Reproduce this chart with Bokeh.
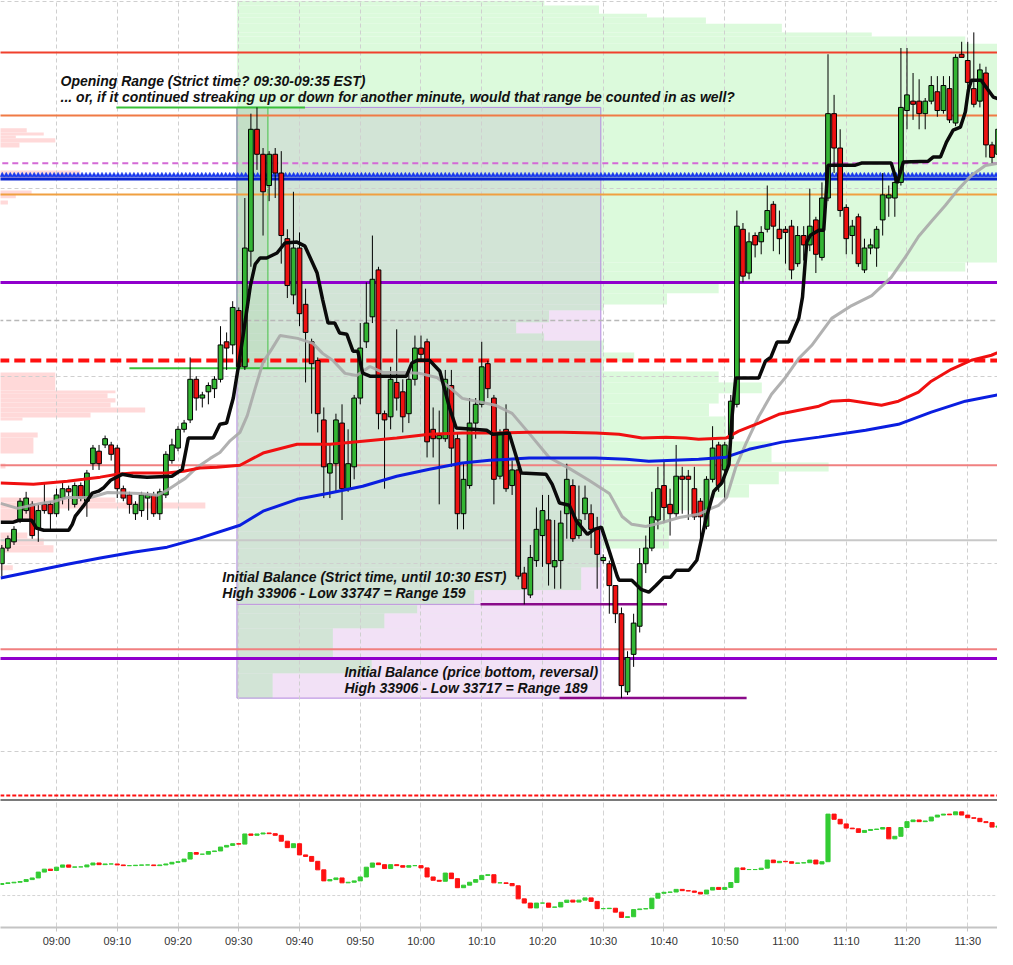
import numpy as np
from bokeh.plotting import figure
from bokeh.models import Range1d, FixedTicker, Label, ColumnDataSource
from bokeh.layouts import column
from bokeh.embed import file_html
from bokeh.resources import INLINE

# ---------------- data (minutes relative to 09:00) ----------------
minute = list(range(-9, 157))
o = [33760,33765,33767,33774,33777,33779,33771,33779,33779,
     33776,33781,33784,33779,33785,33780,33792,33796,33798,33798,
     33797,33784,33782,33776,33777,33781,33782,33776,33782,33793,
     33797,33803,33806,33819,33813,33815,33816,33819,33831,33830,
     33841,33823,33860,33899,33891,33881,33891,33885,33864,33846,
     33861,33843,33831,33825,33806,33789,33792,33805,33784,33791,
     33813,33831,33839,33854,33808,33807,33818,33815,33808,33819,
     33829,33831,33803,33800,33800,33817,33800,33776,33785,33805,
     33811,33824,33813,33788,33803,33785,33790,33757,33750,33761,
     33769,33774,33759,33761,33776,33785,33769,33776,33776,33771,
     33761,33760,33753,33744,33719,33731,33740,33760,33765,33774,
     33785,33779,33776,33788,33788,33784,33780,33772,33787,33798,
     33790,33800,33811,33867,33853,33865,33863,33867,33875,33867,
     33867,33868,33856,33865,33862,33870,33858,33877,33904,33893,
     33874,33865,33871,33854,33861,33861,33870,33877,33877,33882,
     33905,33908,33908,33904,33908,33911,33905,33912,33901,33923,
     33921,33912,33908,33917,33894,33891,33898]
h = [33766,33769,33772,33781,33783,33780,33779,33786,33780,
     33784,33786,33785,33786,33786,33790,33798,33798,33801,33799,
     33798,33785,33783,33780,33783,33783,33783,33784,33796,33800,
     33804,33806,33826,33820,33815,33818,33820,33836,33834,33844,
     33842,33877,33904,33906,33893,33892,33893,33892,33867,33879,
     33866,33848,33832,33826,33810,33798,33808,33811,33803,33814,
     33837,33850,33865,33855,33809,33823,33835,33819,33822,33833,
     33833,33832,33810,33809,33822,33822,33802,33792,33813,33813,
     33831,33825,33814,33803,33811,33793,33791,33759,33766,33778,
     33782,33782,33774,33777,33792,33787,33785,33785,33779,33775,
     33763,33761,33753,33746,33732,33744,33765,33769,33783,33791,
     33793,33784,33798,33791,33790,33791,33781,33788,33804,33799,
     33799,33814,33873,33869,33866,33866,33868,33881,33876,33873,
     33868,33870,33868,33868,33880,33871,33882,33923,33910,33899,
     33875,33870,33872,33864,33864,33868,33885,33881,33884,33925,
     33925,33917,33915,33909,33916,33916,33916,33916,33923,33927,
     33927,33930,33920,33919,33895,33902,33900]
l = [33756,33764,33766,33773,33776,33768,33767,33776,33771,
     33775,33779,33777,33778,33780,33775,33790,33790,33797,33793,
     33781,33780,33776,33774,33775,33774,33775,33774,33781,33792,
     33796,33802,33805,33809,33810,33811,33813,33818,33822,33827,
     33822,33822,33855,33886,33865,33876,33877,33856,33845,33843,
     33836,33818,33808,33802,33781,33781,33783,33774,33783,33787,
     33811,33829,33837,33803,33784,33803,33809,33802,33805,33817,
     33825,33794,33794,33779,33799,33791,33771,33771,33784,33800,
     33810,33813,33779,33787,33783,33782,33755,33747,33749,33759,
     33759,33753,33752,33752,33768,33767,33768,33774,33765,33752,
     33760,33744,33741,33717,33718,33727,33738,33757,33764,33771,
     33773,33769,33775,33776,33774,33774,33767,33771,33786,33783,
     33780,33798,33810,33850,33851,33858,33859,33866,33860,33859,
     33856,33851,33855,33857,33860,33853,33857,33876,33885,33871,
     33859,33859,33855,33853,33859,33855,33865,33871,33871,33881,
     33899,33902,33899,33899,33907,33903,33904,33901,33900,33922,
     33909,33906,33906,33890,33888,33889,33888]
c = [33765,33768,33771,33780,33781,33769,33777,33777,33776,
     33782,33784,33783,33785,33781,33789,33797,33792,33800,33795,
     33784,33781,33779,33779,33782,33782,33776,33783,33795,33798,
     33803,33805,33819,33813,33814,33817,33819,33830,33829,33842,
     33823,33861,33899,33891,33879,33891,33885,33865,33849,33861,
     33840,33834,33824,33808,33791,33792,33806,33784,33792,33813,
     33829,33837,33851,33808,33806,33819,33813,33807,33819,33829,
     33827,33799,33800,33801,33819,33797,33776,33787,33805,33811,
     33823,33816,33787,33802,33784,33790,33756,33752,33762,33771,
     33777,33760,33761,33773,33787,33768,33774,33781,33771,33763,
     33762,33753,33744,33721,33730,33741,33760,33765,33775,33784,
     33778,33776,33788,33787,33787,33775,33775,33787,33797,33785,
     33798,33812,33868,33852,33863,33862,33866,33873,33868,33864,
     33866,33854,33865,33862,33868,33859,33877,33904,33893,33873,
     33864,33868,33856,33861,33862,33867,33878,33878,33882,33906,
     33910,33907,33904,33908,33913,33905,33913,33902,33922,33922,
     33914,33907,33918,33894,33890,33899,33895]

# lower panel (companion index, relative units) closes per minute
lower_first_open = 48.0
lower_close = [49,49.7,50.3,51,53,54.7,60.7,63.7,62.3,
    65.7,68,65.7,66,66,68,70,68.3,69,69,
    68,67.3,67.3,67.7,68,68,67.3,68,69,70.7,
    71.3,74,80.7,79,79,81.7,82.3,86.3,88,89.7,
    89.3,99.7,98.3,99.7,100.7,100,98.3,92.3,85.7,89.7,
    78.3,76.7,71.7,63,51.7,53,54.7,49.7,50.3,51.7,
    55.7,65.7,70,68.3,64.3,68.3,67.3,65.7,67.3,67.3,
    65,55.7,52.3,51.3,59.7,54,44.7,47.3,50.3,53,
    57.3,58,49.7,49.7,49,46.7,33.3,29,24,29,
    29,24.7,25,29.7,32,30,32,34.3,30.7,23.3,
    23.3,23.7,19.7,14.3,15,22.3,23,23.3,34,39,
    40,40.3,43,41.7,41.3,40,38.3,42.3,45,43,
    45,50,65,63.3,63.3,63.3,64.7,73,70.3,71.7,
    71.3,69.7,70,70.3,73,69,71.3,120,114.7,110,
    105.7,105,101.3,103.3,104.3,104.7,106.3,94.7,97.3,106.3,
    112.3,114,112.3,113,117,119,120,119.3,122.3,119,
    116.3,115.7,112.3,111.3,106.7,107.7,109]
lower_grid_level = 36.7

# moving averages / trailing line
red_t = [-9.2,-3.8,1.8,4.4,7.2,10,12.6,18.2,20.9,23.6,26.4,30.2,34,39.6,45,50.4,56,61.4,66.8,72.4,
         77.8,83.3,88.8,92.6,96.4,100.3,103.6,105.7,110.2,112.3,115.6,118.9,122.2,125.5,127.6,130.4,
         135.8,138.6,141.9,144,147.3,150.6,153.9,157.2]
red_v = [33785.8,33785.4,33786.4,33787.0,33787.7,33788.6,33789.0,33789.0,33789.6,33790.6,33790.9,
         33791.5,33795.4,33798.2,33798.2,33799.2,33800.2,33801.4,33801.8,33801.8,33802.1,33802.1,
         33801.8,33801.4,33800.2,33800.5,33800.2,33799.8,33800.2,33802.4,33805.0,33807.8,33809.1,
         33810.4,33812.0,33812.3,33810.7,33812.0,33814.9,33818.4,33822.2,33825.1,33826.7,33829.3]
blue_t = [-9.2,-3.8,1.8,7.2,12.6,18.2,23.6,30.2,34,39.6,45,50.4,56,61.4,66.8,71.3,77.8,83.3,88.8,
          93.8,97.5,105.7,110.2,114,119.4,125.5,133.2,138.6,144,149.6,157.2]
blue_v = [33755.4,33757.6,33759.8,33761.8,33763.7,33765.3,33768.2,33772.3,33776.8,33780.6,33782.6,
          33784.8,33788.0,33790.2,33792.2,33793.1,33793.8,33793.8,33793.8,33793.4,33792.8,33793.4,
          33794.1,33796.6,33798.9,33800.5,33802.7,33804.6,33808.5,33812.0,33814.9]
grey_t = [-9.2,-6.4,-2.6,-0.5,1.8,5.6,8.4,13.8,16.6,18.2,19.9,21.2,23.1,25.3,26.9,28.6,30.2,31.4,32.7,34,
          35.5,36.8,39.7,42.2,43.8,45.5,47.5,49.4,51.6,53.7,57,59.8,62.6,64.7,66.8,70.1,72.4,75,77.8,81.1,
          84.4,87.7,91,93.1,94.7,97,99.7,102.5,105.7,107.4,109,110.3,111.8,113.5,115.6,117.7,120,122.2,
          124.3,127.6,130.9,134.2,137.4,139.7,141.9,144,146.3,148.4,150.6,152.9,155,157.2]
grey_v = [33779.3,33777.7,33779.3,33779.9,33781.2,33781.2,33782.8,33782.5,33781.9,33783.5,
          33785.7,33787.3,33790.8,33793.7,33795.6,33799.4,33802.0,33807.4,33816.1,33824.4,
          33828.9,33833.0,33832.1,33830.5,33827.3,33825.0,33820.9,33820.2,33823.1,33821.2,
          33821.2,33820.9,33819.6,33816.4,33812.9,33811.6,33810.6,33808.1,33801.7,33794.0,
          33790.5,33786.6,33782.5,33775.1,33772.6,33771.9,33773.2,33774.8,33775.8,33777.4,
          33778.7,33781.2,33790.8,33798.5,33807.1,33814.2,33819.6,33825.7,33829.8,33838.5,
          33842.6,33845.8,33851.6,33858.0,33864.7,33869.5,33874.6,33879.7,33884.2,33887.4,
          33888.1,33888.7]
black_t = [-9.2,-7.1,-6.2,-4.1,-3.3,-2.1,2.0,2.6,3.1,4.4,5.9,6.9,7.7,8.9,10.8,12.6,14.9,19.0,20.7,21.7,
           25.8,26.9,28.0,28.6,29.1,29.9,30.7,31.9,32.7,33.5,34.6,36.3,37.6,39.6,40.9,42.9,43.8,44.7,45.8,
           46.6,47.8,48.8,49.6,50.4,51.6,57.6,58.5,59.4,61.4,63.1,64.7,65.8,70.8,71.8,74.5,76.5,80.6,81.6,
           82.8,84.4,85.6,87.4,88.5,89.7,91.0,92.3,92.6,94.7,96.2,97.5,98.7,100.0,101.1,102.0,104.1,105.4,
           106.9,108.2,109.5,110.7,111.2,111.8,115.6,116.7,117.6,118.6,120.5,122.2,122.8,123.5,124.1,125.5,
           126.3,127.0,131.5,132.5,137.4,138.4,139.4,143.5,144.3,145.5,146.5,147.6,148.8,149.6,150.1,150.6,
           152.2,154.2,157.2]
black_v = [33773.3,33773.3,33773.9,33773.9,33771.4,33770.7,33770.7,33772.6,33775.2,33778.4,33782.6,
           33783.2,33784.2,33786.7,33788.6,33788.0,33787.7,33788.0,33790.2,33800.2,33800.2,33804.6,
           33805.0,33809.4,33813.0,33822.6,33832.8,33848.8,33855.8,33857.8,33857.8,33859.4,33862.6,
           33862.9,33861.6,33853.0,33844.6,33837.0,33837.0,33833.8,33833.4,33828.0,33828.0,33821.0,
           33820.0,33820.0,33824.2,33825.1,33825.1,33821.6,33809.8,33803.4,33802.7,33801.4,33801.8,
           33789.0,33788.6,33785.4,33779.4,33778.7,33773.6,33769.4,33771.0,33771.7,33764.0,33756.0,
           33754.7,33754.7,33751.8,33750.9,33753.1,33755.7,33755.7,33757.9,33757.9,33761.1,33774.2,
           33783.2,33785.8,33791.8,33806.9,33819.4,33819.4,33824.8,33826.1,33830.9,33830.9,33838.6,
           33845.3,33862.9,33865.1,33866.7,33866.7,33887.5,33887.5,33888.2,33888.2,33881.8,33888.5,
           33888.8,33890.1,33890.1,33894.9,33898.7,33899.7,33904.5,33911.5,33914.7,33914.7,33909.3,
           33907.4]

# horizontal price levels
lvl_red_top = 33923.6
lvl_coral = 33903.4
lvl_pink_dash = 33888.1
lvl_blue = 33883.1
lvl_orange = 33878.1
lvl_purple_hi = 33850.0
lvl_grey_dash = 33837.8
lvl_red_dash = 33825.0
lvl_salmon_hi = 33791.5
lvl_grey = 33767.5
lvl_salmon_lo = 33732.6
lvl_purple_lo = 33729.7
lvl_red_bottom = 33685.8

# opening range / initial balance
or_start, or_end = 29.7, 34.8
or_high, or_low = 33906, 33822.5
ib_start, ib_end = 29.7, 89.6
ib_high, ib_low_strict, ib_low_bottom = 33906, 33747, 33717

# session volume profile (green, from 09:30) : price bin edges and right end (minutes)
gp_edges = [33940.2,33938.6,33936.0,33934.8,33932.8,33930.0,33928.7,33926.4,33856.4,33853.5,33850.0,
            33846.5,33842.9,33841.0,33837.2,33833.7,33831.4,33827.6,33824.7,33821.5,33818.0,33814.5,
            33811.3,33807.1,33799.1,33792.4,33789.5,33785.4,33781.2,33777.1,33770.3,33764.9,33758.8,
            33751.5,33746.7,33744.1,33739.3,33730.0,33724.9,33716.9]
gp_end = [80.3,89.3,97.2,106.9,119.4,134.2,149.6,158,149.6,136.9,109.0,100.5,90.1,81.1,75.7,80.3,90.1,
          95.1,90.1,109.0,116.1,109.0,107.4,110.2,117.7,127.1,118.9,114.0,107.4,100.8,100.8,89.5,86.4,
          68.8,59.4,54.0,45.5,51.9,35.6]
# lavender profile (right-anchored at 10:30)
lp_top = [33841.0,33837.2,33833.7,33758.8,33751.5,33746.7,33744.1,33739.3,33730.0,33724.9]
lp_bot = [33837.2,33833.7,33831.4,33751.5,33746.7,33744.1,33739.3,33730.0,33724.9,33716.9]
lp_start = [81.1,75.7,80.3,86.4,68.8,59.4,54.0,45.5,51.9,35.6]
# previous session profile (pink, left-anchored)
pp_top = [33899.3,33898.0,33897.0,33896.1,33894.8,33885.8,33879.4,33878.1,33876.2,33821.2,33815.4,
          33814.5,33812.9,33811.6,33810.0,33808.4,33806.8,33802.0,33800.4,33792.1,33781.2,33779.6,
          33777.7,33770.0,33768.1,33765.9,33759.5]
pp_bot = [33898.0,33897.0,33896.1,33894.8,33893.2,33883.3,33878.1,33876.9,33874.9,33815.4,33814.5,
          33812.9,33811.6,33810.0,33808.4,33806.8,33805.8,33800.4,33795.3,33790.5,33779.6,33777.7,
          33773.8,33768.1,33765.9,33763.6,33757.9]
pp_end = [-4.9,-2.1,-6.7,-0.2,-6.1,3.9,-4.1,-6.7,-8.0,-0.2,9.7,8.4,9.7,8.9,14.6,5.6,-5.6,-3.1,-3.8,
          -8.4,9.7,24.5,-2.6,-4.8,-2.1,-0.5,-7.2]

tick_minutes = list(range(-10, 170, 10))
tick_labels = ["08:50","09:00","09:10","09:20","09:30","09:40","09:50","10:00","10:10",
               "10:20","10:30","10:40","10:50","11:00","11:10","11:20","11:30","11:40"]
price_grid = [33700, 33760, 33820, 33880, 33940]

txt_or1 = "Opening Range (Strict time? 09:30-09:35 EST)"
txt_or2 = "... or, if it continued streaking up or down for another minute, would that range be counted in as well?"
txt_ib1 = "Initial Balance (Strict time, until 10:30 EST)"
txt_ib2 = "High 33906 - Low 33747 = Range 159"
txt_ib3 = "Initial Balance (price bottom, reversal)"
txt_ib4 = "High 33906 - Low 33717 = Range 189"

# ---------------- figure ----------------
XMIN, XMAX = -9.22, 154.9
W = 997
p = figure(width=W, height=797, x_range=Range1d(XMIN, XMAX), y_range=Range1d(33685.2, 33940.2),
           x_axis_location=None, y_axis_location=None, output_backend="svg",
           toolbar_location=None, min_border=0)
p.outline_line_color = None
p.background_fill_color = "white"
p.xgrid.ticker = FixedTicker(ticks=tick_minutes)
p.ygrid.ticker = FixedTicker(ticks=price_grid)
for g in (p.xgrid, p.ygrid):
    g.grid_line_color = "#cfcfcf"
    g.grid_line_dash = "4 3"
    g.grid_line_width = 1

XL, XR = XMIN - 3, XMAX + 3
# profiles (below grid)
p.quad(left=[XL] * len(pp_end), right=pp_end, top=pp_top, bottom=pp_bot,
       fill_color="#ffd9d9", line_color=None, level="image")
p.quad(left=[ib_start] * len(gp_end), right=gp_end, top=gp_edges[:-1], bottom=gp_edges[1:],
       fill_color="#dcfadc", line_color=None, level="image")
p.quad(left=[ib_start], right=[ib_end], top=[ib_high], bottom=[ib_low_bottom],
       fill_color="#b4a2c4", fill_alpha=0.25, line_color=None, level="image")
p.quad(left=lp_start, right=[ib_end] * len(lp_start), top=lp_top, bottom=lp_bot,
       fill_color="#f2e1f6", line_color=None, level="image")
p.quad(left=[or_start], right=[or_end], top=[or_high], bottom=[or_low],
       fill_color="#30b030", fill_alpha=0.09, line_color="#44c044", line_width=1, level="image")
p.quad(left=[ib_start], right=[ib_end], top=[ib_high], bottom=[ib_low_bottom],
       fill_color=None, line_color="#b48ae0", line_width=1, level="image")

def hline(y, color, width, dash="solid", x0=XL, x1=XR, alpha=1.0):
    p.segment(x0=[x0], x1=[x1], y0=[y], y1=[y], line_color=color, line_width=width,
              line_dash=dash, line_alpha=alpha)

hline(lvl_red_top, "#f0402c", 2)
hline(lvl_coral, "#f07a45", 2)
hline(lvl_pink_dash, "#d46ad6", 2, "6 4")
hline(lvl_orange, "#f0a040", 2)
hline(lvl_purple_hi, "#9000cc", 3)
hline(lvl_grey_dash, "#b8b8b8", 1.5, "5 3")
hline(lvl_salmon_hi, "#f08080", 2)
hline(lvl_grey, "#c8c8c8", 2)
hline(lvl_salmon_lo, "#f08080", 2)
hline(lvl_purple_lo, "#9000cc", 3)
hline(lvl_red_bottom, "#ff1010", 2, "4 2")
hline(ib_low_strict, "#c090e0", 1, "solid", ib_start, 69.8)
# blue triangle band
hline(lvl_blue, "#0a24d0", 3)
tri_x = np.arange(XL, XR, 0.657)
p.scatter(x=tri_x, y=[lvl_blue + 1.2] * len(tri_x), marker="triangle", size=5,
          fill_color="#1838ee", line_color="#1838ee", line_width=0.5)

# OR / IB marker lines
hline(or_high, "#38c038", 2, "solid", 9.85, 40.9)
hline(or_low, "#38c038", 2, "solid", 12.0, 42.5)
hline(ib_low_strict, "#8a0a8a", 2.5, "solid", 69.8, 100.5)
hline(ib_low_bottom, "#8a0a8a", 2.5, "solid", 82.8, 113.6)

# red dashed level
hline(lvl_red_dash, "#ff1010", 4, "11 5")

# candles
inc = [cc >= oo for oo, cc in zip(o, c)]
src = ColumnDataSource(dict(
    x=minute, o=o, h=h, l=l, c=c,
    top=[max(a, b) for a, b in zip(o, c)],
    bot=[min(a, b) for a, b in zip(o, c)],
    col=["#33b533" if i else "#ee1111" for i in inc]))
p.segment(x0="x", x1="x", y0="h", y1="l", source=src, line_color="#000000", line_width=1)
p.vbar(x="x", width=0.78, top="top", bottom="bot", source=src, fill_color="col",
       line_color="#000000", line_width=1)

# indicator lines
p.line(grey_t, grey_v, line_color="#a8a8a8", line_width=3, line_alpha=0.9)
p.line(red_t, red_v, line_color="#f01010", line_width=3)
p.line(blue_t, blue_v, line_color="#0a1ee0", line_width=3)
p.line(black_t, black_v, line_color="#0a0a0a", line_width=3.5)

def lab(x, y, t):
    p.add_layout(Label(x=x, y=y, text=t, text_font="Liberation Sans", text_font_size="14px",
                       text_font_style="bold italic", text_color="#111111",
                       text_baseline="middle", text_align="left"))

lab(0.66, 33914.6, txt_or1)
lab(0.66, 33909.2, txt_or2)
lab(27.3, 33755.6, txt_ib1)
lab(27.3, 33750.5, txt_ib2)
lab(47.4, 33725.5, txt_ib3)
lab(47.4, 33720.1, txt_ib4)

# ---------------- lower panel ----------------
q = figure(width=W, height=152, x_range=p.x_range, y_range=Range1d(4, 137),
           y_axis_location=None, output_backend="svg", toolbar_location=None,
           min_border_left=0, min_border_right=0, min_border_top=0, min_border_bottom=19)
q.outline_line_color = None
q.xaxis.ticker = FixedTicker(ticks=tick_minutes)
q.xaxis.major_label_overrides = {t: s for t, s in zip(tick_minutes, tick_labels)}
q.xaxis.axis_line_color = "#c4c4c4"
q.xaxis.axis_line_width = 2
q.xaxis.major_tick_line_color = "#c4c4c4"
q.xaxis.major_tick_out = 4
q.xaxis.major_tick_in = 0
q.xaxis.minor_tick_line_color = None
q.xaxis.major_label_text_font = "Liberation Sans"
q.xaxis.major_label_text_font_size = "11px"
q.xaxis.major_label_text_color = "#333333"
q.xaxis.major_label_standoff = 3
q.xgrid.grid_line_color = "#d4d4d4"
q.xgrid.grid_line_dash = "5 3"
q.ygrid.grid_line_color = None
q.segment(x0=[XL], x1=[XR], y0=[lower_grid_level], y1=[lower_grid_level],
          line_color="#d4d4d4", line_dash="3 2", line_width=1)
q.segment(x0=[XL], x1=[XR], y0=[134.5], y1=[134.5], line_color="#7a7a7a", line_width=2)

lo_open = [lower_first_open] + lower_close[:-1]
lsrc = ColumnDataSource(dict(
    x=minute,
    top=[max(a, b) for a, b in zip(lo_open, lower_close)],
    bot=[min(a, b) for a, b in zip(lo_open, lower_close)],
    col=["#33cc33" if b >= a else "#ff1111" for a, b in zip(lo_open, lower_close)]))
q.vbar(x="x", width=0.68, top="top", bottom="bot", source=lsrc, fill_color="col", line_color="col",
       line_width=1)

layout = column(p, q, spacing=0)
open("out.html", "w").write(file_html(layout, INLINE))
